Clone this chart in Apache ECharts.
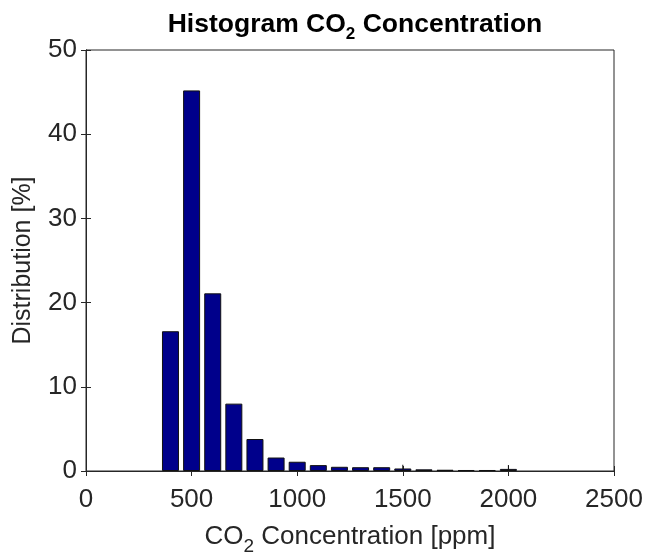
<!DOCTYPE html>
<html>
<head>
<meta charset="utf-8">
<script src="https://cdn.jsdelivr.net/npm/echarts@6/dist/echarts.min.js"></script>
<style>
  html, body { margin: 0; padding: 0; background: #fff; }
  #main { width: 647px; height: 560px; }
</style>
</head>
<body>
<div id="main"></div>
<script>
// bin centres [ppm] and share of samples [%]
var binCenters = [400, 500, 600, 700, 800, 900, 1000, 1100, 1200, 1300, 1400, 1500, 1600, 1700, 1800, 1900, 2000];
var binValues  = [16.6, 45.2, 21.1, 8.0, 3.8, 1.6, 1.1, 0.7, 0.5, 0.45, 0.45, 0.3, 0.2, 0.15, 0.12, 0.12, 0.25];
// the two little spikes over 1500 and 2000
var spikeX = [1500, 2000];
var spikeY = [0.75, 0.7];
var xTicks = [0, 500, 1000, 1500, 2000, 2500];
var yTicks = [0, 10, 20, 30, 40, 50];

var ink = '#262626';
var font = '"Liberation Sans", Arial, sans-serif';

var myChart = echarts.init(document.getElementById('main'));

var barData = binCenters.map(function (x, i) { return [x, binValues[i]]; });
var spikeData = spikeX.map(function (x, i) { return [x, spikeY[i]]; });

var option = {
  animation: false,
  backgroundColor: '#fff',
  title: {
    text: '{b|Histogram CO}{s|2}{b| Concentration}',
    left: 350,
    textAlign: 'center',
    top: 1,
    textStyle: {
      rich: {
        b: { fontFamily: font, fontWeight: 'bold', fontSize: 26.5, color: '#000', lineHeight: 30 },
        s: { fontFamily: font, fontWeight: 'bold', fontSize: 17, color: '#000', padding: [20, 0, 0, 0] }
      }
    }
  },
  grid: {
    left: 86, right: 33, top: 50, bottom: 89,
    outerBoundsMode: 'none', containLabel: false,
    show: true, borderColor: ink, borderWidth: 1
  },
  xAxis: [
    {
      type: 'value', min: 0, max: 2500, interval: 500,
      name: '{n|CO}{s|2}{n| Concentration [ppm]}',
      nameLocation: 'middle', nameGap: 46,
      nameTextStyle: {
        rich: {
          n: { fontFamily: font, fontSize: 26, color: ink, lineHeight: 32 },
          s: { fontFamily: font, fontSize: 19, color: ink, padding: [20, 0, 0, 0] }
        }
      },
      axisLine: { show: true, onZero: false, lineStyle: { color: ink, width: 1 } },
      axisTick: { inside: true, length: 5, lineStyle: { color: ink } },
      axisLabel: {
        fontFamily: font, fontSize: 26, color: ink, margin: 16,
        formatter: function (v) { return xTicks.indexOf(v) >= 0 ? String(v) : ''; }
      },
      splitLine: { show: false }
    },
    {
      type: 'value', min: 0, max: 2500, interval: 500, position: 'top',
      axisLine: { show: true, lineStyle: { color: ink } },
      axisTick: { inside: true, length: 5, lineStyle: { color: ink } },
      axisLabel: { show: false },
      splitLine: { show: false }
    }
  ],
  yAxis: [
    {
      type: 'value', min: 0, max: 50, interval: 10,
      name: 'Distribution [%]',
      nameLocation: 'middle', nameGap: 50,
      nameTextStyle: { fontFamily: font, fontSize: 25, color: ink },
      axisLine: { show: true, onZero: false, lineStyle: { color: ink, width: 1 } },
      axisTick: { show: true, inside: true, length: 5, lineStyle: { color: ink } },
      axisLabel: {
        fontFamily: font, fontSize: 26, color: ink, margin: 9,
        formatter: function (v) { return yTicks.indexOf(v) >= 0 ? String(v) : ''; }
      },
      splitLine: { show: false }
    },
    {
      type: 'value', min: 0, max: 50, interval: 10, position: 'right',
      axisLine: { show: true, lineStyle: { color: ink } },
      axisTick: { show: true, inside: true, length: 5, lineStyle: { color: ink } },
      axisLabel: { show: false },
      splitLine: { show: false }
    }
  ],
  series: [
    {
      name: 'CO2',
      type: 'bar',
      data: barData,
      barWidth: 17,
      itemStyle: { color: '#00008b', borderColor: '#111', borderWidth: 1 }
    },
    {
      name: 'spike',
      type: 'bar',
      xAxisIndex: 1,
      data: spikeData,
      barWidth: 1,
      itemStyle: { color: '#111' }
    }
  ]
};

myChart.setOption(option);
</script>
</body>
</html>
